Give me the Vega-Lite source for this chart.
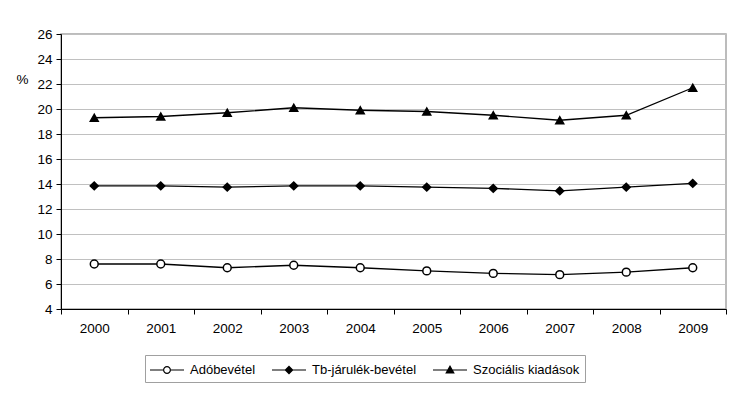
{
  "$schema": "https://vega.github.io/schema/vega-lite/v6.json",
  "autosize": "none",
  "width": 665,
  "height": 275,
  "padding": {"left": 61, "top": 34, "right": 13, "bottom": 85},
  "background": "white",
  "config": {
    "font": "Liberation Sans",
    "view": {"stroke": "#a6a6a6", "strokeWidth": 1.5},
    "axis": {"labelFont": "Liberation Sans", "labelColor": "black", "labelFontSize": 13.5, "domainColor": "black", "tickColor": "black", "tickSize": 5}
  },
  "data": {
    "values": [
      {"year": "2000", "series": "Adóbevétel", "value": 7.6},
      {"year": "2001", "series": "Adóbevétel", "value": 7.6},
      {"year": "2002", "series": "Adóbevétel", "value": 7.3},
      {"year": "2003", "series": "Adóbevétel", "value": 7.5},
      {"year": "2004", "series": "Adóbevétel", "value": 7.3},
      {"year": "2005", "series": "Adóbevétel", "value": 7.05},
      {"year": "2006", "series": "Adóbevétel", "value": 6.85},
      {"year": "2007", "series": "Adóbevétel", "value": 6.75},
      {"year": "2008", "series": "Adóbevétel", "value": 6.95},
      {"year": "2009", "series": "Adóbevétel", "value": 7.3},
      {"year": "2000", "series": "Tb-járulék-bevétel", "value": 13.85},
      {"year": "2001", "series": "Tb-járulék-bevétel", "value": 13.85},
      {"year": "2002", "series": "Tb-járulék-bevétel", "value": 13.75},
      {"year": "2003", "series": "Tb-járulék-bevétel", "value": 13.85},
      {"year": "2004", "series": "Tb-járulék-bevétel", "value": 13.85},
      {"year": "2005", "series": "Tb-járulék-bevétel", "value": 13.75},
      {"year": "2006", "series": "Tb-járulék-bevétel", "value": 13.65},
      {"year": "2007", "series": "Tb-járulék-bevétel", "value": 13.45},
      {"year": "2008", "series": "Tb-járulék-bevétel", "value": 13.75},
      {"year": "2009", "series": "Tb-járulék-bevétel", "value": 14.05},
      {"year": "2000", "series": "Szociális kiadások", "value": 19.3},
      {"year": "2001", "series": "Szociális kiadások", "value": 19.4},
      {"year": "2002", "series": "Szociális kiadások", "value": 19.7},
      {"year": "2003", "series": "Szociális kiadások", "value": 20.1},
      {"year": "2004", "series": "Szociális kiadások", "value": 19.9},
      {"year": "2005", "series": "Szociális kiadások", "value": 19.8},
      {"year": "2006", "series": "Szociális kiadások", "value": 19.5},
      {"year": "2007", "series": "Szociális kiadások", "value": 19.1},
      {"year": "2008", "series": "Szociális kiadások", "value": 19.5},
      {"year": "2009", "series": "Szociális kiadások", "value": 21.7}
    ]
  },
  "encoding": {
    "x": {
      "field": "year", "type": "ordinal", "bandPosition": 0.5,
      "scale": {"type": "band", "paddingInner": 0, "paddingOuter": 0},
      "axis": {"title": null, "labelAngle": 0, "tickBand": "extent", "grid": false, "labelPadding": 7}
    },
    "y": {
      "field": "value", "type": "quantitative",
      "scale": {"domain": [4, 26], "nice": false, "zero": false},
      "axis": {
        "values": [4, 6, 8, 10, 12, 14, 16, 18, 20, 22, 24, 26],
        "grid": true, "gridColor": "#c0c0c0", "gridWidth": 1,
        "labelPadding": 4,
        "title": "%", "titleAngle": 0, "titleFont": "Liberation Sans", "titleFontSize": 13.5, "titleFontWeight": "normal",
        "titleX": -39, "titleY": 45, "titleAlign": "center", "titleBaseline": "middle"
      }
    }
  },
  "layer": [
    {
      "mark": {"type": "line", "color": "black", "strokeWidth": 1.3},
      "encoding": {"detail": {"field": "series"}}
    },
    {
      "mark": {"type": "point", "stroke": "black", "strokeWidth": 1.5, "opacity": 1},
      "encoding": {
        "shape": {
          "field": "series", "type": "nominal",
          "scale": {"domain": ["Adóbevétel", "Tb-járulék-bevétel", "Szociális kiadások"], "range": ["circle", "diamond", "triangle-up"]},
          "legend": null
        },
        "fill": {
          "field": "series", "type": "nominal",
          "scale": {"domain": ["Adóbevétel", "Tb-járulék-bevétel", "Szociális kiadások"], "range": ["white", "black", "black"]},
          "legend": null
        },
        "size": {
          "field": "series", "type": "nominal",
          "scale": {"domain": ["Adóbevétel", "Tb-járulék-bevétel", "Szociális kiadások"], "range": [62, 62, 80]},
          "legend": null
        }
      }
    },
    {
      "mark": {"type": "point", "filled": true, "color": "black", "opacity": 0},
      "encoding": {
        "shape": {
          "field": "series", "type": "nominal",
          "scale": {
            "domain": ["Adóbevétel", "Tb-járulék-bevétel", "Szociális kiadások"],
            "range": [
              "M-1,-0.06H0.3V0.06H-1Z M1.1,-0.06H2.4V0.06H1.1Z M1.1,0A0.4,0.4 0 1 1 0.3,0A0.4,0.4 0 1 1 1.1,0Z M0.98,0A0.28,0.28 0 1 0 0.42,0A0.28,0.28 0 1 0 0.98,0Z",
              "M-1,-0.06H2.4V0.06H-1Z M0.7,-0.45L1.15,0L0.7,0.45L0.25,0Z",
              "M-1,-0.06H2.4V0.06H-1Z M0.7,-0.5L1.18,0.35L0.22,0.35Z"
            ]
          },
          "legend": {
            "title": null, "orient": "none", "direction": "horizontal",
            "legendX": 84, "legendY": 321,
            "symbolSize": 400, "symbolOpacity": 1, "symbolFillColor": "black", "symbolStrokeWidth": 0,
            "labelFont": "Liberation Sans", "labelFontSize": 13, "labelColor": "black", "labelOffset": 20,
            "columnPadding": 16, "padding": 5, "strokeColor": "#a0a0a0", "fillColor": "white"
          }
        }
      }
    }
  ],
  "resolve": {"scale": {"shape": "independent", "fill": "independent", "size": "independent"}, "legend": {"shape": "independent"}}
}
